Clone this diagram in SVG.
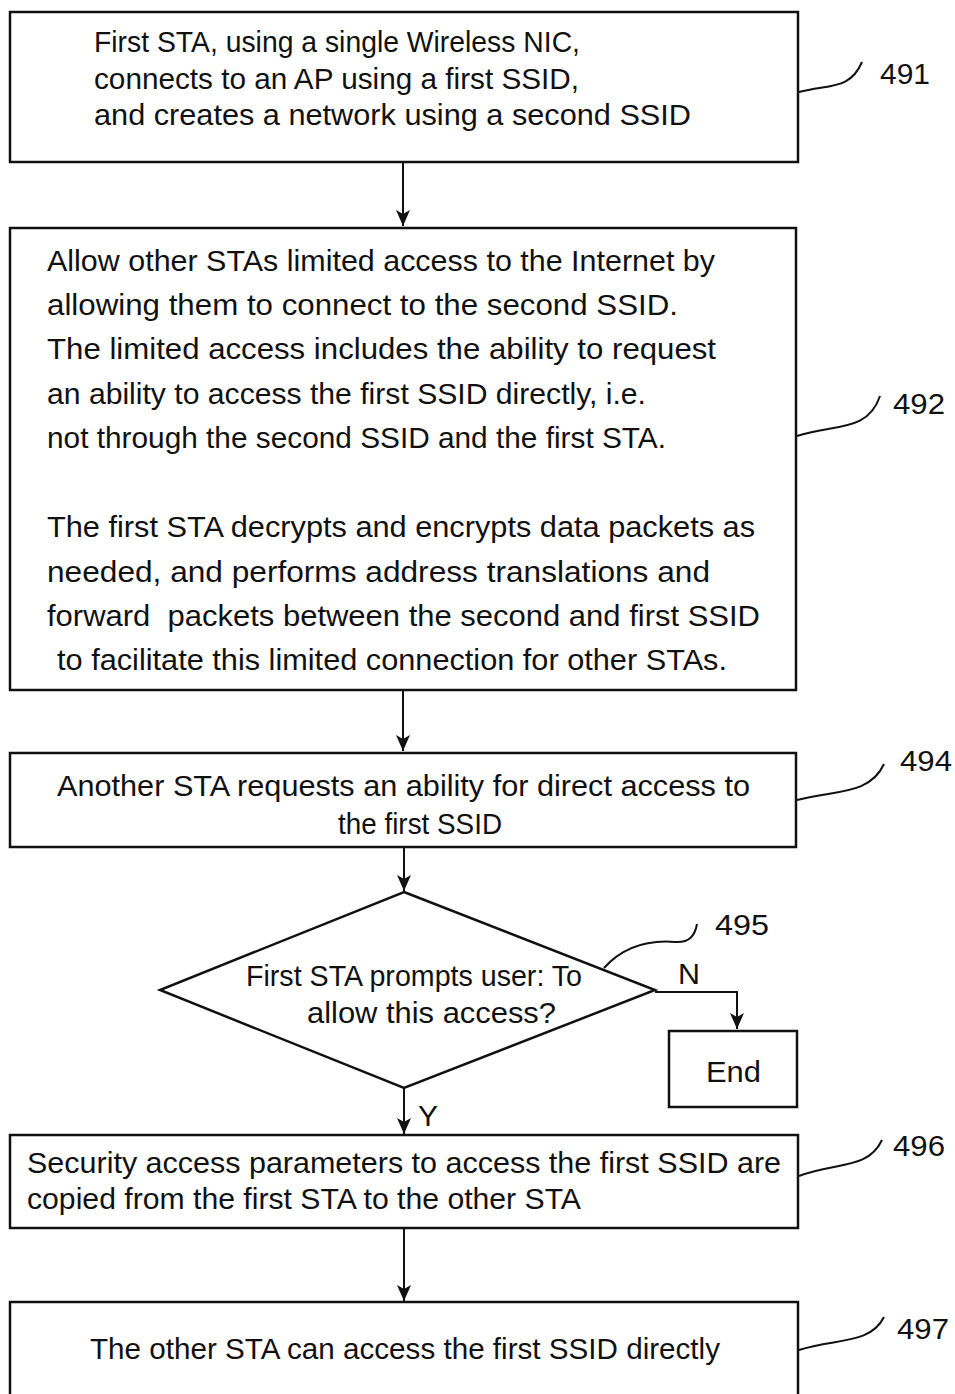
<svg xmlns="http://www.w3.org/2000/svg" width="955" height="1394" viewBox="0 0 955 1394">
<defs>
<marker id="ah" markerWidth="16" markerHeight="14" refX="16" refY="7" orient="auto" markerUnits="userSpaceOnUse" viewBox="0 0 16 14">
<path d="M0,0 L16,7 L0,14 L4,7 Z" fill="#111"/>
</marker>
</defs>
<style>
.box{fill:#fff;stroke:#111;stroke-width:2.5}
.t{font-family:"Liberation Sans",Arial,sans-serif;font-size:30px;fill:#111}
.lab{font-family:"Liberation Sans",Arial,sans-serif;font-size:29px;fill:#111}
.c{fill:none;stroke:#111;stroke-width:2}
.ld{fill:none;stroke:#111;stroke-width:2}
</style>
<rect width="955" height="1394" fill="#fff"/>
<g id="connectors">
<line class="c" x1="403" y1="162" x2="403" y2="226" marker-end="url(#ah)"/>
<line class="c" x1="403" y1="690" x2="403" y2="751" marker-end="url(#ah)"/>
<line class="c" x1="404" y1="847" x2="404" y2="891" marker-end="url(#ah)"/>
<polyline class="c" points="655,992 737,992 737,1029" marker-end="url(#ah)"/>
<line class="c" x1="404" y1="1088" x2="404" y2="1134" marker-end="url(#ah)"/>
<line class="c" x1="404" y1="1228" x2="404" y2="1301" marker-end="url(#ah)"/>
<text class="lab" x="678" y="984" textLength="22" lengthAdjust="spacingAndGlyphs">N</text>
<text class="lab" x="418" y="1126" textLength="20" lengthAdjust="spacingAndGlyphs">Y</text>
</g>
<g id="n491">
<rect class="box" x="10" y="12" width="788" height="150"/>
<text class="t" x="94" y="52" textLength="486" lengthAdjust="spacingAndGlyphs">First STA, using a single Wireless NIC,</text>
<text class="t" x="94" y="89" textLength="485" lengthAdjust="spacingAndGlyphs">connects to an AP using a first SSID,</text>
<text class="t" x="94" y="125" textLength="597" lengthAdjust="spacingAndGlyphs">and creates a network using a second SSID</text>
<path class="ld" d="M799,92 C830,84 850,90 862,62"/>
<text class="lab" x="880" y="84" textLength="50" lengthAdjust="spacingAndGlyphs">491</text>
</g>
<g id="n492">
<rect class="box" x="10" y="228" width="786" height="462"/>
<text class="t" x="47" y="271" textLength="668" lengthAdjust="spacingAndGlyphs">Allow other STAs limited access to the Internet by</text>
<text class="t" x="47" y="315" textLength="631" lengthAdjust="spacingAndGlyphs">allowing them to connect to the second SSID.</text>
<text class="t" x="47" y="359" textLength="669" lengthAdjust="spacingAndGlyphs">The limited access includes the ability to request</text>
<text class="t" x="47" y="404" textLength="599" lengthAdjust="spacingAndGlyphs">an ability to access the first SSID directly, i.e.</text>
<text class="t" x="47" y="448" textLength="619" lengthAdjust="spacingAndGlyphs">not through the second SSID and the first STA.</text>
<text class="t" x="47" y="537" textLength="708" lengthAdjust="spacingAndGlyphs">The first STA decrypts and encrypts data packets as</text>
<text class="t" x="47" y="582" textLength="663" lengthAdjust="spacingAndGlyphs">needed, and performs address translations and</text>
<text class="t" x="47" y="626" textLength="713" lengthAdjust="spacingAndGlyphs" xml:space="preserve">forward  packets between the second and first SSID</text>
<text class="t" x="57" y="670" textLength="670" lengthAdjust="spacingAndGlyphs">to facilitate this limited connection for other STAs.</text>
<path class="ld" d="M797,436 C835,424 868,432 880,396"/>
<text class="lab" x="893" y="414" textLength="52" lengthAdjust="spacingAndGlyphs">492</text>
</g>
<g id="n494">
<rect class="box" x="10" y="753" width="786" height="94"/>
<text class="t" x="57" y="796" textLength="693" lengthAdjust="spacingAndGlyphs">Another STA requests an ability for direct access to</text>
<text class="t" x="338" y="834" textLength="164" lengthAdjust="spacingAndGlyphs">the first SSID</text>
<path class="ld" d="M797,800 C835,790 870,795 884,764"/>
<text class="lab" x="900" y="771" textLength="52" lengthAdjust="spacingAndGlyphs">494</text>
</g>
<g id="n495">
<polygon class="box" points="404,892 655,990 404,1088 160,990"/>
<text class="t" x="246" y="986" textLength="336" lengthAdjust="spacingAndGlyphs">First STA prompts user: To</text>
<text class="t" x="307" y="1023" textLength="249" lengthAdjust="spacingAndGlyphs">allow this access?</text>
<path class="ld" d="M604,968 C625,945 650,940 675,942 C690,943 695,935 697,924"/>
<text class="lab" x="715" y="935" textLength="54" lengthAdjust="spacingAndGlyphs">495</text>
</g>
<g id="nEnd">
<rect class="box" x="669" y="1031" width="128" height="76"/>
<text class="t" x="706" y="1082" textLength="55" lengthAdjust="spacingAndGlyphs">End</text>
</g>
<g id="n496">
<rect class="box" x="10" y="1135" width="788" height="93"/>
<text class="t" x="27" y="1173" textLength="754" lengthAdjust="spacingAndGlyphs">Security access parameters to access the first SSID are</text>
<text class="t" x="27" y="1209" textLength="554" lengthAdjust="spacingAndGlyphs">copied from the first STA to the other STA</text>
<path class="ld" d="M799,1176 C835,1162 868,1170 882,1140"/>
<text class="lab" x="893" y="1156" textLength="52" lengthAdjust="spacingAndGlyphs">496</text>
</g>
<g id="n497">
<rect class="box" x="10" y="1302" width="788" height="110"/>
<text class="t" x="90" y="1359" textLength="630" lengthAdjust="spacingAndGlyphs">The other STA can access the first SSID directly</text>
<path class="ld" d="M799,1350 C835,1338 870,1345 884,1317"/>
<text class="lab" x="897" y="1339" textLength="52" lengthAdjust="spacingAndGlyphs">497</text>
</g>
</svg>
